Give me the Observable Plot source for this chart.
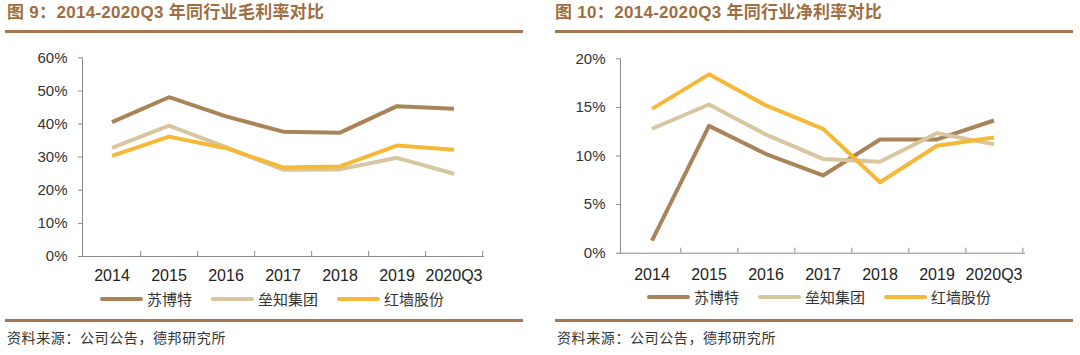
<!DOCTYPE html>
<html>
<head>
<meta charset="utf-8">
<script src="https://cdn.jsdelivr.net/npm/d3@7"></script>
<script src="https://cdn.jsdelivr.net/npm/@observablehq/plot@0.6"></script>
<style>
  html, body { margin: 0; padding: 0; background: #fff; }
  body { width: 1080px; height: 355px; position: relative; overflow: hidden; font-family: "Liberation Sans", Arial, "Noto Sans CJK SC", sans-serif; }
  .abs { position: absolute; }
  .title { font-size: 17px; font-weight: bold; color: #9E6E42; white-space: nowrap; line-height: 20px; letter-spacing: 0.3px; font-family: "Liberation Sans", Arial, "Noto Sans CJK SC", sans-serif; }
  .rule { height: 3px; background: #A57550; }
  .source { font-size: 14px; color: #333; letter-spacing: 0.6px; white-space: nowrap; line-height: 18px; font-family: "Noto Sans CJK SC", sans-serif; }
  .legend { display: flex; align-items: center; white-space: nowrap; font-family: "Noto Sans CJK SC", sans-serif; font-size: 15px; color: #333; line-height: 18px; }
  .legend .item { display: flex; align-items: center; }
  .legend .sw { display: inline-block; width: 43px; height: 4px; border-radius: 2px; margin-right: 4px; }
</style>
</head>
<body>
<div id="root"></div>
<script>
const categories = ["2014", "2015", "2016", "2017", "2018", "2019", "2020Q3"];
const seriesNames = ["苏博特", "垒知集团", "红墙股份"];
const seriesColors = ["#A98458", "#D8C6A0", "#F5B93A"];

// Figure 9: gross margin (%)
const grossSBT = [40.6, 48.1, 42.3, 37.7, 37.4, 45.4, 44.6];
const grossLZ  = [32.8, 39.5, 33.0, 26.2, 26.3, 29.8, 25.0];
const grossHQ  = [30.4, 36.2, 32.7, 26.9, 27.2, 33.5, 32.2];

// Figure 10: net margin (%)
const netSBT = [1.3, 13.1, 10.2, 8.0, 11.7, 11.7, 13.65];
const netLZ  = [12.8, 15.3, 12.2, 9.7, 9.4, 12.35, 11.2];
const netHQ  = [14.85, 18.4, 15.2, 12.8, 7.3, 11.05, 11.9];

const grossTicks = [0, 10, 20, 30, 40, 50, 60];
const netTicks = [0, 5, 10, 15, 20];

const title1 = "图 9：2014-2020Q3 年同行业毛利率对比";
const title2 = "图 10：2014-2020Q3 年同行业净利率对比";
const sourceText = "资料来源：公司公告，德邦研究所";

function tidy(arrs) {
  const out = [];
  arrs.forEach((arr, s) => arr.forEach((v, i) => out.push({cat: categories[i], series: seriesNames[s], v: v / 100})));
  return out;
}

function makeChart(data, ticks, cfg) {
  const bw = (cfg.width - cfg.marginLeft - cfg.marginRight) / categories.length;
  return Plot.plot({
    width: cfg.width, height: cfg.height,
    marginLeft: cfg.marginLeft, marginRight: cfg.marginRight,
    marginTop: cfg.marginTop, marginBottom: cfg.marginBottom,
    style: {fontFamily: '"Liberation Sans", Arial, sans-serif', fontSize: "15px", color: "#333", background: "transparent", overflow: "visible"},
    x: {type: "band", domain: categories, padding: 0, label: null},
    y: {domain: [0, ticks[ticks.length - 1] / 100], label: null},
    color: {domain: seriesNames, range: seriesColors},
    marks: [
      Plot.frame({anchor: "left", stroke: "#8a8a8a"}),
      Plot.frame({anchor: "bottom", stroke: "#8a8a8a"}),
      Plot.axisY({ticks: ticks.map(t => t / 100), tickFormat: d => Math.round(d * 100) + "%", tickSize: 4, tickPadding: cfg.yPad, stroke: "#8a8a8a", fill: "#333", label: null}),
      Plot.axisX({tickSize: 0, tickPadding: cfg.xPad, fill: "#222", fontSize: 16, label: null}),
      Plot.axisX({tickSize: 5, dy: -5, dx: bw / 2, tickFormat: () => "", stroke: "#8a8a8a", label: null}),
      Plot.line(data, {x: "cat", y: "v", z: "series", stroke: "series", strokeWidth: 4, strokeLinejoin: "round", strokeLinecap: "butt"})
    ]
  });
}

function addAbs(el, left, top) {
  el.classList.add("abs");
  el.style.left = left + "px";
  el.style.top = top + "px";
  document.getElementById("root").appendChild(el);
  return el;
}
function div(cls, text) {
  const d = document.createElement("div");
  d.className = cls;
  if (text != null) d.textContent = text;
  return d;
}
function legend() {
  const d = div("legend");
  seriesNames.forEach((name, i) => {
    const it = div("item");
    it.style.marginRight = "19px";
    const sw = document.createElement("span");
    sw.className = "sw";
    sw.style.background = seriesColors[i];
    const t = document.createElement("span");
    t.textContent = name;
    it.appendChild(sw); it.appendChild(t);
    d.appendChild(it);
  });
  return d;
}

// Panel 1
addAbs(div("title", title1), 7, 3);
const r1 = addAbs(div("rule"), 5, 30); r1.style.width = "518px";
const c1 = makeChart(tidy([grossSBT, grossLZ, grossHQ]), grossTicks,
  {width: 540, height: 250, marginLeft: 82, marginRight: 57, marginTop: 17.3, marginBottom: 34, yPad: 11, xPad: 13});
addAbs(c1, 0, 40);
addAbs(legend(), 100, 290);
const b1 = addAbs(div("rule"), 5, 319); b1.style.width = "518px";
addAbs(div("source", sourceText), 7, 328);

// Panel 2
addAbs(div("title", title2), 555, 3);
const r2 = addAbs(div("rule"), 555, 30); r2.style.width = "518px";
const c2 = makeChart(tidy([netSBT, netLZ, netHQ]), netTicks,
  {width: 540, height: 250, marginLeft: 80, marginRight: 56, marginTop: 18.3, marginBottom: 37.3, yPad: 11, xPad: 15});
addAbs(c2, 540, 40);
addAbs(legend(), 647, 288);
const b2 = addAbs(div("rule"), 555, 319); b2.style.width = "518px";
addAbs(div("source", sourceText), 557, 328);
</script>
</body>
</html>
